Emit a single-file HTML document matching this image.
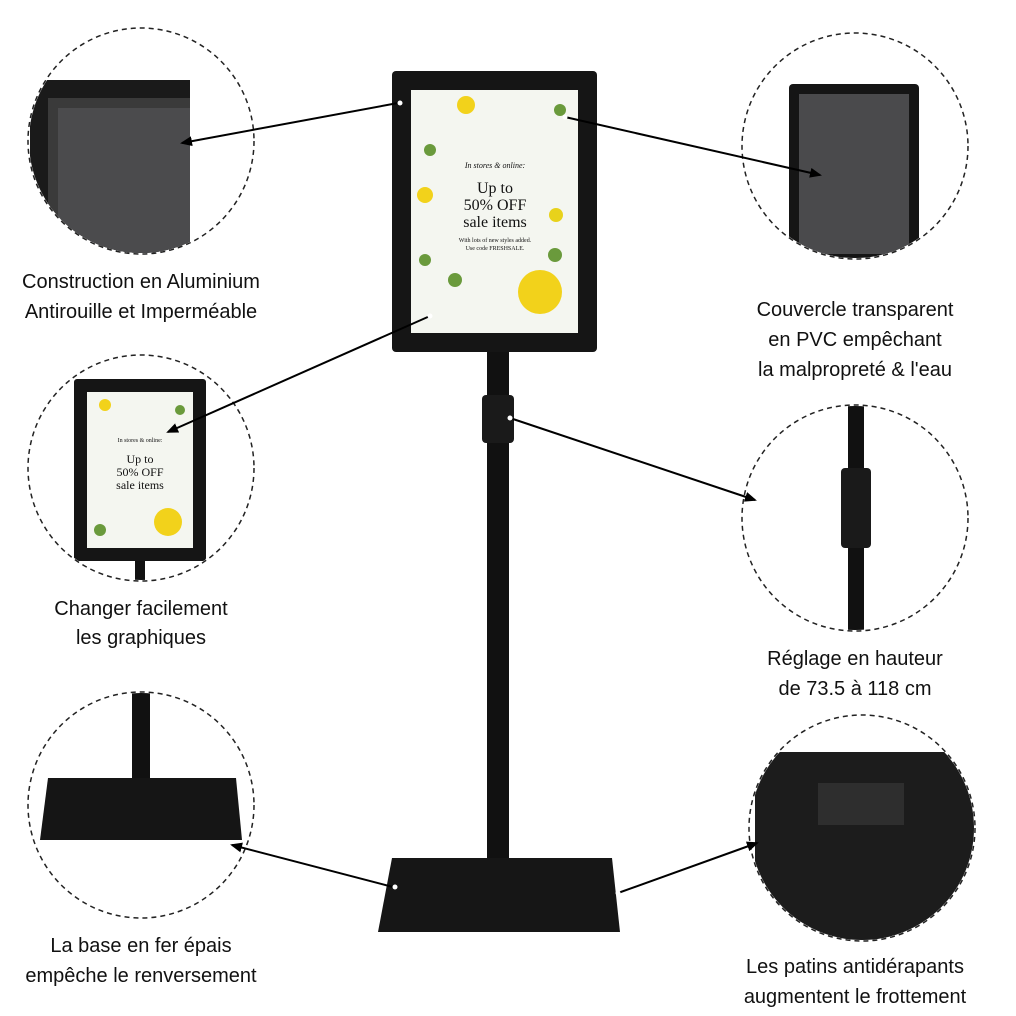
<!DOCTYPE html>
<html><head><meta charset="utf-8"><style>
html,body{margin:0;padding:0;background:#fff;}
svg{display:block}
text{font-family:"Liberation Sans",sans-serif;font-size:20px;fill:#111;text-anchor:middle}
</style></head><body>
<svg width="1016" height="1016" viewBox="0 0 1016 1016">
<defs>
<marker id="ah" markerWidth="12" markerHeight="10" refX="10" refY="5" orient="auto" markerUnits="userSpaceOnUse">
<path d="M0,0 L12,5 L0,10 Z" fill="#000"/></marker>
<clipPath id="c1"><circle cx="141" cy="141" r="112"/></clipPath>
<clipPath id="c2"><circle cx="855" cy="146" r="112"/></clipPath>
<clipPath id="c3"><circle cx="141" cy="468" r="112"/></clipPath>
<clipPath id="c4"><circle cx="855" cy="518" r="112"/></clipPath>
<clipPath id="c5"><circle cx="141" cy="805" r="112"/></clipPath>
<clipPath id="c6"><circle cx="862" cy="828" r="112"/></clipPath>
</defs>

<g clip-path="url(#c1)">
<rect x="30" y="80" width="160" height="200" fill="#1a1a1a"/>
<rect x="48" y="98" width="142" height="182" fill="#3a3a3a"/>
<rect x="58" y="108" width="132" height="172" fill="#4b4b4d"/>
</g>
<circle cx="141" cy="141" r="113" fill="none" stroke="#222" stroke-width="1.5" stroke-dasharray="5,4"/>

<g clip-path="url(#c2)">
<rect x="851" y="260" width="8" height="40" fill="#111"/>
<rect x="789" y="84" width="130" height="180" rx="4" fill="#151515"/>
<rect x="799" y="94" width="110" height="160" fill="#4a4a4c"/>
</g>
<circle cx="855" cy="146" r="113" fill="none" stroke="#222" stroke-width="1.5" stroke-dasharray="5,4"/>

<g clip-path="url(#c3)">
<rect x="135" y="555" width="10" height="40" fill="#111"/>
<rect x="74" y="379" width="132" height="182" rx="3" fill="#151515"/>
<rect x="87" y="392" width="106" height="156" fill="#f4f6f0"/>
<circle cx="168" cy="522" r="14" fill="#f2d21b"/>
<circle cx="105" cy="405" r="6" fill="#f2d21b"/>
<circle cx="100" cy="530" r="6" fill="#6a9a3c"/>
<circle cx="180" cy="410" r="5" fill="#6a9a3c"/>
<text x="140" y="442" style="font-family:'Liberation Serif',serif;font-size:6px">In stores &amp; online:</text>
<text x="140" y="463" style="font-family:'Liberation Serif',serif;font-size:12px">Up to</text>
<text x="140" y="476" style="font-family:'Liberation Serif',serif;font-size:12px">50% OFF</text>
<text x="140" y="489" style="font-family:'Liberation Serif',serif;font-size:12px">sale items</text>
</g>
<circle cx="141" cy="468" r="113" fill="none" stroke="#222" stroke-width="1.5" stroke-dasharray="5,4"/>

<g clip-path="url(#c4)">
<rect x="848" y="400" width="16" height="240" fill="#111"/>
<rect x="841" y="468" width="30" height="80" rx="4" fill="#1a1a1a"/>
</g>
<circle cx="855" cy="518" r="113" fill="none" stroke="#222" stroke-width="1.5" stroke-dasharray="5,4"/>

<g clip-path="url(#c5)">
<rect x="132" y="690" width="18" height="100" fill="#111"/>
<path d="M48,778 L236,778 L242,840 L40,840 Z" fill="#151515"/>
</g>
<circle cx="141" cy="805" r="113" fill="none" stroke="#222" stroke-width="1.5" stroke-dasharray="5,4"/>

<g clip-path="url(#c6)">
<rect x="755" y="752" width="220" height="200" fill="#1c1c1c"/>
<rect x="818" y="783" width="86" height="42" fill="#2e2e2e"/>
</g>
<circle cx="862" cy="828" r="113" fill="none" stroke="#222" stroke-width="1.5" stroke-dasharray="5,4"/>

<rect x="487" y="350" width="22" height="515" fill="#111"/>
<rect x="482" y="395" width="32" height="48" rx="4" fill="#1a1a1a"/>
<path d="M392,858 L612,858 L620,932 L378,932 Z" fill="#161616"/>
<rect x="392" y="71" width="205" height="281" rx="4" fill="#151515"/>
<rect x="411" y="90" width="167" height="243" fill="#f4f6f0"/>
<circle cx="540" cy="292" r="22" fill="#f2d21b"/>
<circle cx="466" cy="105" r="9" fill="#f2d21b"/>
<circle cx="425" cy="195" r="8" fill="#f2d21b"/>
<circle cx="556" cy="215" r="7" fill="#e8d21b"/>
<circle cx="430" cy="150" r="6" fill="#6a9a3c"/>
<circle cx="560" cy="110" r="6" fill="#6a9a3c"/>
<circle cx="455" cy="280" r="7" fill="#6a9a3c"/>
<circle cx="425" cy="260" r="6" fill="#6a9a3c"/>
<circle cx="555" cy="255" r="7" fill="#6a9a3c"/>
<text x="495" y="168" style="font-family:'Liberation Serif',serif;font-size:8px;font-style:italic">In stores &amp; online:</text>
<text x="495" y="193" style="font-family:'Liberation Serif',serif;font-size:16px">Up to</text>
<text x="495" y="210" style="font-family:'Liberation Serif',serif;font-size:16px">50% OFF</text>
<text x="495" y="227" style="font-family:'Liberation Serif',serif;font-size:16px">sale items</text>
<text x="495" y="242" style="font-family:'Liberation Serif',serif;font-size:6px">With lots of new styles added.</text>
<text x="495" y="250" style="font-family:'Liberation Serif',serif;font-size:6px">Use code FRESHSALE.</text>

<g stroke="#000" stroke-width="2" fill="none">
<line x1="398" y1="103" x2="182" y2="143" marker-end="url(#ah)"/>
<line x1="565" y1="117" x2="820" y2="175" marker-end="url(#ah)"/>
<line x1="430" y1="316" x2="168" y2="432" marker-end="url(#ah)"/>
<line x1="510" y1="418" x2="755" y2="500" marker-end="url(#ah)"/>
<line x1="393" y1="887" x2="232" y2="845" marker-end="url(#ah)"/>
<line x1="618" y1="893" x2="757" y2="843" marker-end="url(#ah)"/>
</g>
<g fill="#fff"><circle cx="400" cy="103" r="2.5"/><circle cx="565" cy="117" r="2.5"/><circle cx="430" cy="316" r="2.5"/><circle cx="510" cy="418" r="2.5"/><circle cx="395" cy="887" r="2.5"/><circle cx="618" cy="893" r="2.5"/></g>

<text x="141" y="288">Construction en Aluminium</text>
<text x="141" y="318">Antirouille et Imperméable</text>
<text x="855" y="316">Couvercle transparent</text>
<text x="855" y="346">en PVC empêchant</text>
<text x="855" y="376">la malpropreté &amp; l'eau</text>
<text x="141" y="615">Changer facilement</text>
<text x="141" y="644">les graphiques</text>
<text x="855" y="665">Réglage en hauteur</text>
<text x="855" y="695">de 73.5 à 118 cm</text>
<text x="141" y="952">La base en fer épais</text>
<text x="141" y="982">empêche le renversement</text>
<text x="855" y="973">Les patins antidérapants</text>
<text x="855" y="1003">augmentent le frottement</text>
</svg>
</body></html>
